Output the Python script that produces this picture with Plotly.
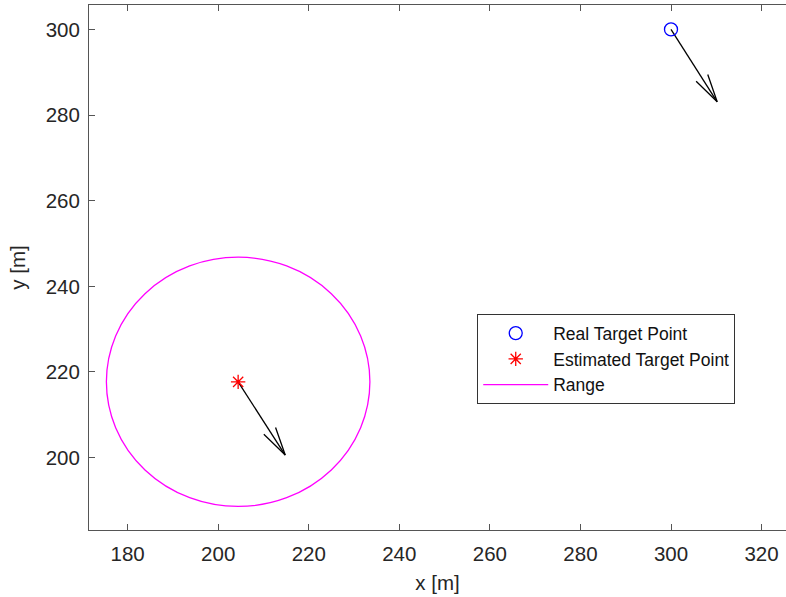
import plotly.graph_objects as go

# data
real_point = [300.0, 300.0]
est_point = [204.4, 217.7]
real_vel = [10.2, -16.9]
est_vel = [10.4, -17.1]
range_radius = 29.1
x_ticks = [180, 200, 220, 240, 260, 280, 300, 320]
y_ticks = [200, 220, 240, 260, 280, 300]
x_range = [171.46, 325.4]
y_range = [183.1, 305.7]

ALPHA, BETA = 0.33, 0.23


def quiver_xy(p, v):
    x, y = p
    u, w = v
    tx, ty = x + u, y + w
    xs = [x, tx, None,
          tx - ALPHA * (u + BETA * w), tx, tx - ALPHA * (u - BETA * w)]
    ys = [y, ty, None,
          ty - ALPHA * (w - BETA * u), ty, ty - ALPHA * (w + BETA * u)]
    return xs, ys


fig = go.Figure()

for p, v in [(real_point, real_vel), (est_point, est_vel)]:
    qx, qy = quiver_xy(p, v)
    fig.add_trace(go.Scatter(x=qx, y=qy, mode="lines",
                             line=dict(color="black", width=1.3),
                             showlegend=False, hoverinfo="skip"))

fig.add_trace(go.Scatter(x=[real_point[0]], y=[real_point[1]], mode="markers",
                         name="Real Target Point",
                         marker=dict(symbol="circle-open", size=13,
                                     color="#0000ff", line=dict(width=1.3))))
fig.add_trace(go.Scatter(x=[est_point[0]], y=[est_point[1]], mode="markers",
                         name="Estimated Target Point",
                         marker=dict(symbol="asterisk-open", size=12,
                                     color="#ff0000", line=dict(width=1.3, color="#ff0000"))))
fig.add_trace(go.Scatter(x=[None], y=[None], mode="lines", name="Range",
                         line=dict(color="#ff00ff", width=1.3)))

fig.add_shape(type="circle", xref="x", yref="y",
              x0=est_point[0] - range_radius, x1=est_point[0] + range_radius,
              y0=est_point[1] - range_radius, y1=est_point[1] + range_radius,
              line=dict(color="#ff00ff", width=1.3))

axis_common = dict(showgrid=False, zeroline=False, showline=True,
                   linecolor="#555555", linewidth=1, ticks="inside",
                   ticklen=6, tickcolor="#555555",
                   tickfont=dict(size=20.5, color="#262626"))

fig.update_xaxes(range=x_range, tickvals=x_ticks, mirror="ticks",
                 ticklabelstandoff=5,
                 title=dict(text="x [m]", font=dict(size=20.5, color="#262626"), standoff=12),
                 **axis_common)
fig.update_yaxes(range=y_range, tickvals=y_ticks, mirror=False,
                 ticklabelstandoff=4,
                 title=dict(text="y [m]", font=dict(size=20.5, color="#262626"), standoff=14),
                 **axis_common)

fig.update_layout(
    width=786, height=597,
    margin=dict(l=89, r=0, t=5, b=67),
    paper_bgcolor="white", plot_bgcolor="white",
    font=dict(family="Liberation Sans, Arial, sans-serif", color="#262626"),
    legend=dict(x=0.557, y=0.411, xanchor="left", yanchor="top",
                bgcolor="white", bordercolor="#333333", borderwidth=1,
                itemwidth=65,
                font=dict(size=17.5, color="#111111"), tracegroupgap=0),
)

fig.write_html("out.html")
